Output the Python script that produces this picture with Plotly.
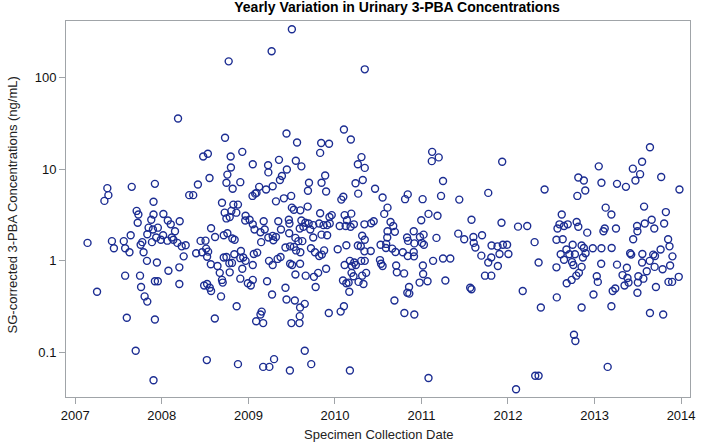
import datetime as dt
import plotly.graph_objects as go

# Decimal-year collection dates and SG-corrected 3-PBA concentrations (ng/mL)
date_2007 = [2007.371, 2007.383, 2007.337, 2007.653, 2007.921, 2007.905, 2007.710, 2007.730, 2007.722, 2007.905,
             2007.879, 2007.848, 2007.898, 2007.955, 2007.833, 2007.641, 2007.775, 2007.756, 2007.887, 2007.936,
             2007.142, 2007.424, 2007.447, 2007.561, 2007.577, 2007.627, 2007.790, 2007.829, 2007.944, 2007.577,
             2007.749, 2007.761, 2007.802, 2007.833, 2007.921, 2007.955, 2007.252, 2007.596, 2007.921, 2007.699,
             2007.905, 2007.990]
conc_2007 = [6.2, 5.2, 4.5, 6.4, 6.9, 4.4, 3.5, 3.2, 2.6, 3.2,
             2.8, 2.3, 2.2, 2.3, 1.95, 1.9, 1.6, 1.5, 1.6, 1.8,
             1.57, 1.64, 1.37, 1.64, 1.37, 1.24, 1.24, 1.0, 0.96, 0.69,
             0.69, 0.52, 0.41, 0.36, 0.6, 0.6, 0.46, 0.24, 0.23, 0.105,
             0.05, 1.7]

date_2008 = [2008.772, 2008.188, 2008.730, 2008.929, 2008.478, 2008.532, 2008.795, 2008.551, 2008.757, 2008.798,
             2008.746, 2008.818, 2008.906, 2008.417, 2008.317, 2008.363, 2008.695, 2008.826, 2008.879, 2008.726,
             2008.803, 2008.860, 2008.746, 2008.784, 2008.967, 2008.963, 2008.019, 2008.070, 2008.104, 2008.207,
             2008.153, 2008.016, 2008.116, 2008.134, 2008.065, 2008.180, 2008.230, 2008.276, 2008.569, 2008.615,
             2008.448, 2008.505, 2008.715, 2008.757, 2008.814, 2008.841, 2008.397, 2008.466, 2008.512, 2008.535,
             2008.523, 2008.253, 2008.566, 2008.643, 2008.669, 2008.715, 2008.746, 2008.780, 2008.810, 2008.837,
             2008.913, 2008.906, 2008.940, 2008.967, 2008.929, 2008.203, 2008.077, 2008.784, 2008.906, 2008.695,
             2008.703, 2008.203, 2008.489, 2008.523, 2008.554, 2008.569, 2008.684, 2008.864, 2008.612, 2008.520,
             2008.879, 2008.993]
conc_2008 = [149, 35.6, 21.9, 15.4, 13.7, 14.7, 13.7, 8.0, 8.7, 10.4,
             7.1, 6.1, 7.2, 6.8, 5.2, 5.2, 4.3, 4.1, 4.1, 3.35,
             3.5, 3.35, 2.9, 3.0, 3.1, 2.75, 3.24, 2.75, 2.5, 2.7,
             2.1, 1.9, 1.8, 1.7, 1.66, 1.57, 1.44, 1.48, 2.27, 1.82,
             1.65, 1.66, 1.9, 2.0, 1.75, 1.7, 1.21, 1.24, 1.36, 1.26,
             1.11, 1.12, 0.92, 0.88, 0.74, 1.09, 1.1, 0.94, 0.95, 1.18,
             1.28, 1.07, 1.09, 1.0, 0.82, 0.85, 0.78, 0.75, 0.64, 0.62,
             0.58, 0.56, 0.54, 0.56, 0.51, 0.47, 0.41, 0.32, 0.236, 0.083,
             0.075, 0.57]

date_2009 = [2009.502, 2009.268, 2009.440, 2009.562, 2009.841, 2009.932, 2009.829, 2009.050, 2009.227, 2009.230,
             2009.353, 2009.548, 2009.612, 2009.387, 2009.364, 2009.444, 2009.887, 2009.845, 2009.700, 2009.688,
             2009.898, 2009.280, 2009.204, 2009.124, 2009.093, 2009.047, 2009.078, 2009.318, 2009.410, 2009.494,
             2009.502, 2009.525, 2009.600, 2009.685, 2009.829, 2009.013, 2009.050, 2009.070, 2009.176, 2009.188,
             2009.345, 2009.376, 2009.467, 2009.474, 2009.612, 2009.658, 2009.696, 2009.635, 2009.715, 2009.749,
             2009.818, 2009.868, 2009.910, 2009.937, 2009.139, 2009.230, 2009.280, 2009.318, 2009.471, 2009.593,
             2009.543, 2009.577, 2009.623, 2009.749, 2009.845, 2009.910, 2009.147, 2009.288, 2009.428, 2009.482,
             2009.525, 2009.551, 2009.600, 2009.723, 2009.769, 2009.818, 2009.849, 2009.875, 2009.050, 2009.062,
             2009.101, 2009.238, 2009.280, 2009.337, 2009.371, 2009.482, 2009.505, 2009.597, 2009.543, 2009.662,
             2009.757, 2009.806, 2009.898, 2009.777, 2009.027, 2009.050, 2009.215, 2009.273, 2009.428,
             2009.440, 2009.536, 2009.651, 2009.597, 2009.593, 2009.590, 2009.497, 2009.089, 2009.139, 2009.153,
             2009.170, 2009.929, 2009.651, 2009.726, 2009.296, 2009.242, 2009.170, 2009.479]
conc_2009 = [333, 192, 24.4, 19.5, 19.2, 18.9, 15, 11.3, 11, 9.2,
             12.6, 12.3, 10.7, 8.4, 7.6, 9.9, 8.5, 7.1, 7.1, 5.8,
             5.7, 6.5, 6.0, 6.4, 5.5, 5.1, 5.4, 4.45, 4.8, 5.1,
             3.8, 3.6, 3.55, 3.9, 3.3, 2.8, 2.5, 2.2, 2.7, 2.2,
             2.7, 2.2, 2.8, 2.55, 2.75, 2.6, 2.55, 2.35, 2.2, 2.45,
             2.55, 2.45, 2.45, 3.0, 2.05, 1.8, 1.87, 1.82, 2.0, 2.25,
             1.78, 1.64, 1.64, 1.8, 1.93, 1.9, 1.6, 1.68, 1.4, 1.44,
             1.42, 1.3, 1.24, 1.37, 1.24, 1.13, 1.17, 1.3, 0.9, 1.19,
             1.23, 1.0, 0.9, 1.05, 1.1, 0.93, 0.9, 0.93, 0.71, 0.69,
             0.67, 0.74, 0.82, 0.52, 0.54, 0.62, 0.6, 0.43, 0.51,
             0.38, 0.37, 0.34, 0.31, 0.25, 0.21, 0.21, 0.22, 0.26, 0.28,
             0.21, 0.27, 0.105, 0.075, 0.085, 0.07, 0.07, 0.064]

date_2010 = [2010.345, 2010.104, 2010.184, 2010.307, 2010.265, 2010.345, 2010.238, 2010.322, 2010.269, 2010.464,
             2010.551, 2010.608, 2010.570, 2010.842, 2010.811, 2010.074, 2010.097, 2009.963, 2009.940, 2010.055,
             2010.112, 2010.139, 2010.189, 2010.181, 2010.219, 2010.124, 2010.341, 2010.418, 2010.448, 2010.608,
             2010.643, 2010.674, 2010.693, 2010.605, 2010.315, 2010.345, 2010.265, 2010.299, 2010.132, 2010.032,
             2010.341, 2010.414, 2010.528, 2010.593, 2010.590, 2010.662, 2010.700, 2010.785, 2010.842, 2010.834,
             2010.845, 2010.911, 2010.911, 2010.914, 2010.521, 2010.533, 2010.551, 2010.112, 2010.173, 2010.196,
             2010.223, 2010.242, 2010.304, 2010.345, 2010.361, 2010.315, 2010.273, 2010.330, 2010.192, 2010.215,
             2010.093, 2010.132, 2010.158, 2010.166, 2010.708, 2010.716, 2010.800, 2010.857, 2010.837, 2010.860,
             2010.688, 2010.066, 2010.104, 2010.803, 2010.918, 2010.173, 2010.918]
conc_2010 = [122, 27, 21, 13.5, 11.3, 10.3, 7.0, 7.6, 5.4, 6.1,
             4.9, 3.8, 3.25, 5.3, 4.7, 4.65, 5.0, 3.15, 2.55, 2.4,
             3.15, 2.77, 3.27, 2.35, 2.5, 2.4, 2.5, 2.57, 2.7, 2.1,
             2.65, 2.4, 2.07, 1.8, 1.88, 1.7, 1.47, 1.44, 1.48, 1.34,
             1.27, 1.28, 1.5, 1.53, 1.38, 1.36, 1.25, 1.24, 1.13, 1.8,
             1.65, 2.1, 1.25, 1.12, 1.02, 0.93, 0.88, 0.9, 1.0, 0.88,
             0.96, 0.9, 1.0, 1.0, 0.74, 0.69, 0.59, 0.56, 0.74, 0.68,
             0.61, 0.57, 0.58, 0.46, 0.89, 0.75, 0.73, 0.52, 0.45, 0.44,
             0.37, 0.28, 0.32, 0.27, 0.26, 0.064, 1.55]

date_2011 = [2011.124, 2011.120, 2011.200, 2011.250, 2011.227, 2011.014, 2011.438, 2011.773, 2011.934, 2011.082,
             2010.998, 2011.186, 2011.579, 2011.926, 2011.025, 2010.983, 2011.006, 2011.426, 2011.495, 2011.601,
             2011.701, 2011.605, 2011.624, 2011.174, 2011.029, 2011.135, 2011.250, 2011.334, 2011.017, 2011.020,
             2010.979, 2011.071, 2011.277, 2011.693, 2011.773, 2011.808, 2011.811, 2011.880, 2011.903, 2011.942,
             2011.884, 2011.735, 2011.808, 2011.564, 2011.579, 2011.082]
conc_2011 = [15.4, 12.2, 13.4, 7.4, 5.1, 4.7, 4.65, 5.5, 12, 3.25,
             2.77, 3.1, 2.8, 2.6, 1.93, 1.82, 1.57, 1.98, 1.72, 1.82,
             1.9, 1.57, 1.4, 1.78, 1.5, 1.0, 1.06, 1.06, 0.89, 0.72,
             0.58, 0.6, 0.61, 1.14, 0.96, 1.09, 1.47, 1.44, 1.19, 1.5,
             0.88, 0.69, 0.69, 0.51, 0.49, 0.053]

date_2012 = [2012.423, 2012.812, 2012.876, 2012.801, 2012.892, 2012.117, 2012.223, 2012.621, 2012.572, 2012.595,
             2012.647, 2012.690, 2012.793, 2012.812, 2012.915, 2011.991, 2012.006, 2012.308, 2012.354, 2012.560,
             2012.632, 2012.609, 2012.647, 2012.675, 2012.709, 2012.747, 2012.773, 2012.739, 2012.755, 2012.850,
             2012.876, 2012.896, 2012.865, 2012.850, 2012.819, 2012.789, 2012.735, 2012.678, 2012.560, 2012.171,
             2012.564, 2012.380, 2012.850, 2012.762, 2012.778, 2012.315, 2012.354, 2012.094]
conc_2012 = [6.0, 8.1, 7.5, 5.1, 5.85, 2.36, 2.4, 3.2, 2.25, 2.5,
             2.4, 2.5, 2.65, 2.35, 2.03, 1.5, 1.19, 1.6, 0.96, 1.7,
             1.72, 1.18, 1.03, 1.33, 1.18, 1.5, 1.18, 0.97, 0.9, 1.47,
             1.38, 1.21, 1.09, 0.86, 0.74, 0.69, 0.62, 0.57, 0.85, 0.47,
             0.4, 0.31, 0.31, 0.157, 0.134, 0.056, 0.056, 0.04]

date_2013 = [2013.640, 2013.549, 2013.048, 2013.442, 2013.526, 2013.472, 2013.770, 2013.079, 2013.259, 2013.362,
             2013.981, 2013.128, 2013.194, 2013.572, 2013.824, 2013.102, 2013.117, 2013.247, 2013.491, 2013.495,
             2013.580, 2013.660, 2013.690, 2013.804, 2013.446, 2013.850, 2013.866, 2013.763, 2013.900, 2013.873,
             2012.979, 2013.079, 2013.197, 2013.411, 2013.423, 2013.552, 2013.637, 2013.678, 2013.698, 2013.549,
             2013.603, 2013.694, 2013.786, 2013.076, 2013.259, 2013.373, 2013.323, 2013.380, 2013.392, 2013.346,
             2013.506, 2013.564, 2013.500, 2013.025, 2013.037, 2013.239, 2013.209, 2012.987, 2013.495, 2013.709,
             2013.854, 2013.896, 2013.973, 2013.194, 2013.640, 2013.793, 2013.151]
conc_2013 = [17.3, 12, 10.7, 10.1, 8.8, 7.5, 8.2, 7.1, 6.9, 6.4,
             6.0, 3.8, 3.2, 3.9, 3.4, 2.1, 2.25, 2.25, 2.4, 2.1,
             2.55, 2.8, 2.25, 2.55, 1.72, 1.72, 1.44, 1.33, 1.12, 0.89,
             1.37, 1.37, 1.38, 1.21, 1.17, 1.19, 1.0, 1.17, 1.13, 0.96,
             0.77, 0.86, 0.81, 0.93, 0.91, 0.84, 0.7, 0.65, 0.58, 0.54,
             0.68, 0.64, 0.58, 0.68, 0.59, 0.5, 0.47, 0.43, 0.45, 0.52,
             0.59, 0.59, 0.67, 0.32, 0.27, 0.26, 0.07]

year_ticks = [2007, 2008, 2009, 2010, 2011, 2012, 2013, 2014]
y_ticks = [0.1, 1, 10, 100]
y_tick_labels = ["0.1", "1", "10", "100"]


def to_date(y):
    yr = int(y)
    start = dt.datetime(yr, 1, 1)
    end = dt.datetime(yr + 1, 1, 1)
    return start + (end - start) * (y - yr)


all_dates = date_2007 + date_2008 + date_2009 + date_2010 + date_2011 + date_2012 + date_2013
all_conc = conc_2007 + conc_2008 + conc_2009 + conc_2010 + conc_2011 + conc_2012 + conc_2013
x_dates = [to_date(v) for v in all_dates]

fig = go.Figure()
fig.add_trace(go.Scatter(
    x=x_dates, y=all_conc, mode="markers",
    marker=dict(symbol="circle-open", size=7, color="#1c2d92", line=dict(width=1.4, color="#1c2d92")),
    showlegend=False, hoverinfo="x+y",
))

axis_col = "#a0a4a8"
fig.update_layout(
    width=701, height=444,
    margin=dict(l=66, r=6, t=21, b=47),
    paper_bgcolor="white", plot_bgcolor="white",
    font=dict(family="Liberation Sans, Arial, sans-serif", color="#000000"),
    title=dict(text="<b>Yearly Variation in Urinary 3-PBA Concentrations</b>",
               x=397 / 701, xref="container", xanchor="center",
               y=1 - 7 / 444, yref="container", yanchor="middle",
               font=dict(size=14, color="#000000")),
    xaxis=dict(
        type="date",
        range=[to_date(2006.893), to_date(2014.103)],
        tickvals=[to_date(v) for v in year_ticks],
        ticktext=[str(v) for v in year_ticks],
        ticks="outside", ticklen=6, tickcolor=axis_col, tickwidth=1,
        showgrid=False, zeroline=False,
        showline=True, linecolor=axis_col, linewidth=1, mirror=True,
        tickfont=dict(size=13, color="#111111"),
    ),
    yaxis=dict(
        type="log",
        range=[-1.483, 2.613],
        tickvals=y_ticks, ticktext=y_tick_labels,
        ticks="outside", ticklen=6, tickcolor=axis_col, tickwidth=1,
        showgrid=False, zeroline=False,
        showline=True, linecolor=axis_col, linewidth=1, mirror=True,
        tickfont=dict(size=13, color="#111111"),
    ),
    annotations=[
        dict(text="SG-corrected 3-PBA Concentrations (ng/mL)", textangle=-90,
             xref="paper", yref="paper", x=(12 - 66) / 629, y=(397 - 205) / 376,
             xanchor="center", yanchor="middle", showarrow=False,
             font=dict(size=13, color="#222222")),
        dict(text="Specimen Collection Date",
             xref="paper", yref="paper", x=(382 - 66) / 629, y=-(435 - 397) / 376,
             xanchor="center", yanchor="middle", showarrow=False,
             font=dict(size=13, color="#222222")),
    ],
)

fig.write_html("out.html", config={"displayModeBar": False},
               post_script="document.body.style.margin='0';document.body.style.padding='0';")
